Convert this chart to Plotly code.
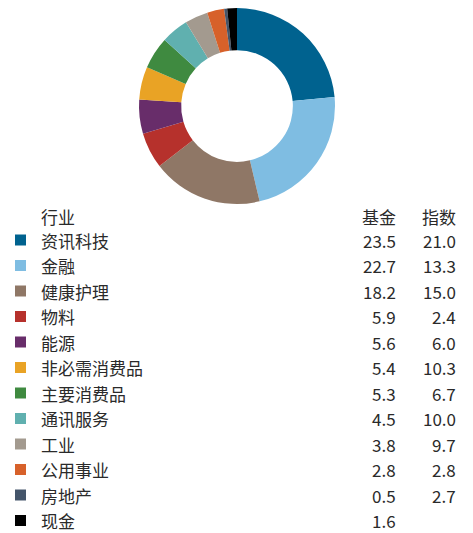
import plotly.graph_objects as go

# Sector weights (%)
sectors = ["资讯科技", "金融", "健康护理", "物料", "能源", "非必需消费品",
           "主要消费品", "通讯服务", "工业", "公用事业", "房地产", "现金"]
fund = [23.5, 22.7, 18.2, 5.9, 5.6, 5.4, 5.3, 4.5, 3.8, 2.8, 0.5, 1.6]
index = [21.0, 13.3, 15.0, 2.4, 6.0, 10.3, 6.7, 10.0, 9.7, 2.8, 2.7, None]
colors = ["#00628F", "#7FBDE2", "#8F7766", "#B6312C", "#682D6A", "#E9A325",
          "#3F8A40", "#60B0AF", "#A39A8F", "#D7612A", "#44556A", "#000000"]

W, H = 473, 533
FONT = "Noto Sans CJK SC"
TXT = "#2a2a2a"


def px(x):
    return x / W


def py(y):
    return 1 - y / H


fig = go.Figure()

# Donut of fund weights
cx, cy, r = 237, 106, 98
fig.add_trace(go.Pie(
    labels=sectors,
    values=fund,
    marker=dict(colors=colors, line=dict(width=0)),
    hole=0.57,
    sort=False,
    direction="clockwise",
    rotation=0,
    textinfo="none",
    hoverinfo="label+value",
    domain=dict(x=[px(cx - r), px(cx + r)], y=[py(cy + r), py(cy - r)]),
    showlegend=False,
))

annotations = []
shapes = []

# Header row
yh, y0, dy = 217, 240, 25.5
annotations.append(dict(x=px(40), y=py(yh), text="行业", xanchor="left"))
annotations.append(dict(x=px(397), y=py(yh), text="基金", xanchor="right"))
annotations.append(dict(x=px(457), y=py(yh), text="指数", xanchor="right"))

# Table rows with colour keys
for i, (name, f, ix, c) in enumerate(zip(sectors, fund, index, colors)):
    yy = y0 + dy * i
    shapes.append(dict(type="rect", xref="paper", yref="paper",
                       x0=px(15), x1=px(26), y0=py(yy + 5.5), y1=py(yy - 5.5),
                       fillcolor=c, line=dict(width=0)))
    annotations.append(dict(x=px(40), y=py(yy), text=name, xanchor="left"))
    annotations.append(dict(x=px(397), y=py(yy), text=f"{f:.1f}", xanchor="right"))
    if ix is not None:
        annotations.append(dict(x=px(457), y=py(yy), text=f"{ix:.1f}", xanchor="right"))

for a in annotations:
    a.update(xref="paper", yref="paper", yanchor="middle", showarrow=False,
             borderpad=0, font=dict(family=FONT, size=17, color=TXT))

fig.update_layout(
    width=W, height=H,
    margin=dict(l=0, r=0, t=0, b=0),
    paper_bgcolor="white",
    plot_bgcolor="white",
    annotations=annotations,
    shapes=shapes,
)

fig.write_html("out.html")
